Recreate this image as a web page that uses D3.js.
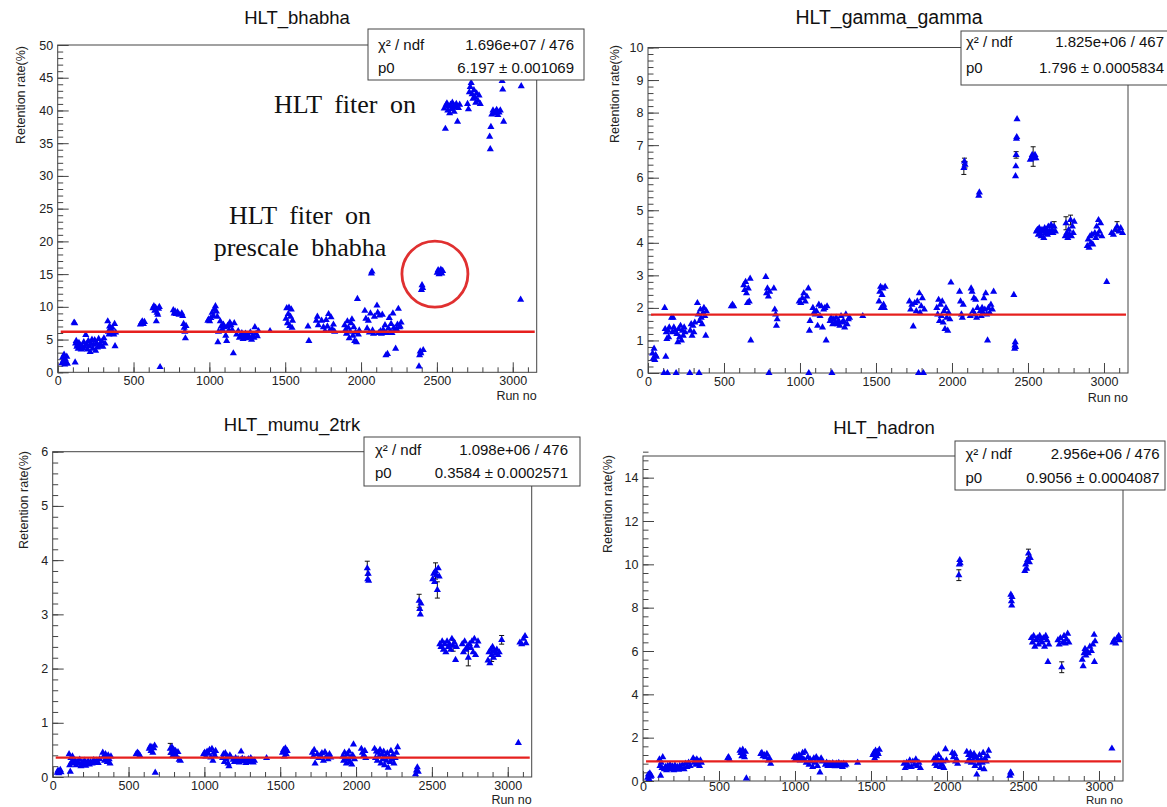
<!DOCTYPE html>
<html><head><meta charset="utf-8">
<script src="https://cdn.jsdelivr.net/npm/d3@7"></script>
<style>body{margin:0;background:#fff}svg{display:block}</style>
</head><body>
<svg id="chart" width="1167" height="807"></svg>
<script>
// ---------- DATA ----------
const titles = ["HLT_bhabha", "HLT_gamma_gamma", "HLT_mumu_2trk", "HLT_hadron"];
const chi2ndfText = ["1.696e+07 / 476", "1.825e+06 / 467", "1.098e+06 / 476", "2.956e+06 / 476"];
const p0Text = ["6.197 \u00b1 0.001069", "1.796 \u00b1 0.0005834", "0.3584 \u00b1 0.0002571", "0.9056 \u00b1 0.0004087"];
const p0Values = [6.197, 1.796, 0.3584, 0.9056];
const fitRange = [20, 3145];
const yMaxValues = [50, 10, 6, 15];
const yMajorStep = [5, 1, 1, 2];
const yMinorStep = [1, 0.2, 0.2, 0.4];
const xTickValues = [0, 500, 1000, 1500, 2000, 2500, 3000];
const xAxisTitle = "Run no";
const yAxisTitle = "Retention rate(%)";
const annotationLines = ["HLT fiter on", "HLT fiter on", "prescale bhabha"];
const circledPoint = [2487, 15.0];

// [run, rate, (error)]
const bhabha = [
[28,1.4],[33,2.3],[38,1.8],[42,2.7],[46,1.2],[50,2.0],[55,1.6],[60,2.4],[64,1.3],
[108,7.6],[112,7.5],[115,1.5],[118,4.4],[122,4.8],[126,3.9],[130,4.2],[135,3.6],[140,4.5],[145,3.8],[150,4.1],[155,3.5],[160,4.0],[165,3.7],
[172,4.6],[178,3.9],[185,5.7],[190,4.3],[196,3.5],[202,4.8],[208,4.0],[214,3.1],[220,4.4],[226,5.0],[232,3.6],[238,4.2],[244,4.9],[250,3.3],[256,4.5],[262,3.8],[270,5.1],[278,4.3],[285,4.0],[292,4.7],[298,3.9],[305,5.2],[312,4.4],
[330,7.8],[334,6.2],[338,5.8],[342,7.0],[346,6.5],[350,5.9],[355,6.3],[360,6.8],[365,6.0],[370,5.8],[375,7.4],[378,4.0],[382,6.1],
[545,7.3],[552,7.6],[558,7.8],[565,7.4],[572,7.7],
[628,9.8],[634,10.1],[640,9.4],[645,9.9],[650,7.8],[655,9.1],[660,8.8],[665,9.7],[670,10.0],[675,0.8],
[762,9.5],[768,9.0],[774,9.3],[780,8.9],[790,9.2],[800,8.8],[818,9.0],[824,8.6],[830,7.4],[834,6.8],[838,6.2],[842,5.2],[846,7.1],
[990,7.9],[996,8.1],[1002,7.8],[1010,8.3],[1018,9.1],[1026,8.6],[1032,9.6],[1040,10.1],[1046,9.3],[1052,8.5],[1056,4.6],[1060,6.2],
[1072,7.8],[1078,7.0],[1085,6.6],[1092,7.3],[1100,6.9],[1108,5.6],[1114,4.8],[1120,7.1],[1128,6.4],[1135,7.6],[1142,7.2],[1150,6.5],[1158,2.9],[1164,7.5],
[1180,5.8],[1190,6.3],[1198,5.3],[1206,5.6],[1214,6.0],[1222,5.1],[1230,5.5],[1238,5.9],[1246,5.2],[1254,5.7],[1262,5.4],[1270,6.1],[1278,5.0],[1286,5.6],[1294,5.3],[1300,6.9],[1308,5.9],[1316,5.5],[1324,6.3],
[1400,6.3],
[1505,8.2],[1510,9.8],[1515,7.5],[1520,8.9],[1525,9.9],[1530,7.1],[1535,8.5],[1540,9.6],[1545,6.8],[1548,7.9],
[1650,7.0],[1656,4.8],[1705,7.9],[1712,8.5],[1718,7.2],[1740,7.9],[1752,6.9],[1762,6.3],[1770,8.0],[1778,7.0],[1786,8.9],[1794,6.4],[1802,8.4],[1810,6.6],[1818,7.3],[1826,6.2],
[1892,7.2],[1898,6.5],[1904,5.9],[1910,7.8],[1916,6.8],[1922,5.2],[1928,6.2],[1934,7.5],[1940,8.1],[1946,5.6],[1952,6.9],[1958,4.8],[1964,6.1],[1970,4.6],[1976,11.2],[1982,5.8],[1988,6.4],
[2025,9.4],[2032,8.2],[2040,6.7],[2048,7.9],[2055,6.1],[2062,9.0],[2068,15.1],[2072,15.4],[2076,6.4],[2082,5.9],[2088,8.5],
[2105,10.2],[2110,9.1],[2116,6.0],[2122,8.7],[2128,6.3],[2134,5.9],[2140,8.8],[2146,6.5],[2152,6.1],[2158,7.2],[2164,2.6],[2168,6.0],[2174,2.8],[2180,6.7],[2186,8.3],[2192,6.2],[2198,7.4],[2204,6.0],[2210,9.0],[2216,6.8],[2222,6.4],[2228,3.6],[2234,6.6],[2240,7.3],[2246,9.7],[2252,6.9],[2258,7.0],[2264,7.6],
[2382,0.9],[2386,2.6],[2390,3.2],[2394,2.9],[2398,12.6],[2402,13.3],[2406,12.9],[2410,3.4],
[2502,15.2],[2508,15.6],[2514,15.0],[2520,15.4],[2526,15.7],[2532,15.1],[2538,15.5],
[2548,40.3],[2556,37.2],[2560,40.8],[2566,41.1],[2572,40.0],[2578,40.6],[2584,39.6],[2590,40.9],[2596,40.2],[2602,41.2],[2608,40.5],[2614,39.8],[2620,40.7],[2628,41.0],[2636,38.3],[2642,40.4],[2650,40.9],
[2702,41.0],[2708,40.2],[2714,42.8],[2720,43.6],[2726,44.2],[2732,42.5],[2738,41.8],[2744,43.1],[2750,42.0],[2756,41.2],[2762,42.6],[2770,41.5],[2778,42.3],[2786,41.0],
[2848,36.0],[2852,34.1],[2856,37.5],[2862,39.4],[2870,40.0],[2878,39.6],[2886,39.8],[2894,40.1],[2902,39.3],[2910,39.7],[2918,40.0],[2930,44.5],[2934,43.2],[2940,38.3],
[3052,11.1],[3056,43.7],[3090,45.0]
];

const gammaGamma = [
[30,0.6],[35,0.45],[40,0.75],[45,0.4],[50,0.55],[55,0.5],
[105,0],[110,2.0],[113,1.35],[117,0.5],[120,1.25],[124,1.05],[128,0],[132,1.3],[136,1.1],[140,1.4],
[155,1.7],[160,1.25],[165,1.7],[170,1.4],[178,1.3],[185,0],[190,1.2],[196,0.95],[202,1.35],[208,1.1],[214,1.45],[220,1.0],[226,1.3],[232,1.15],[238,1.4],[244,1.25],
[275,0],[278,1.3],[284,1.5],[290,1.15],[296,1.45],[302,1.25],[308,1.55],
[325,2.15],[330,1.8],[336,0],[340,1.6],[345,1.95],[350,1.7],[356,1.5],[362,1.85],[368,2.0],[374,1.75],[380,1.15],[384,1.9],
[548,2.05],[556,2.1],[564,2.05],
[630,2.7],[636,2.55],[642,2.8],[648,2.45],[654,2.15],[660,2.6],[666,2.2],[672,2.9],[676,1.0],
[775,2.95],[780,2.45],[786,2.6],[792,2.35],[796,0],[800,2.5],[828,2.6],[834,1.95],[840,1.8],[845,1.45],[850,1.65],
[995,2.2],[1005,2.15],[1015,2.3],[1025,2.45],[1035,2.2],[1045,2.35],[1055,2.6],[1058,0],[1062,1.3],[1066,1.6],
[1085,2.0],[1092,1.85],[1100,1.8],[1108,1.9],[1116,1.45],[1124,2.1],[1132,1.75],[1140,2.05],[1148,1.4],[1156,1.95],[1164,2.0],[1172,1.0],[1178,2.05],
[1198,1.6],[1205,1.7],[1210,0],[1215,1.5],[1222,1.65],[1230,1.55],[1238,1.7],[1246,1.5],[1254,1.6],[1262,1.45],[1270,1.75],[1278,1.55],[1286,1.6],[1294,1.4],[1302,1.8],[1310,1.5],[1318,1.65],[1326,1.7],
[1413,1.75],
[1520,2.2],[1525,2.5],[1530,2.65],[1535,2.0],[1540,2.4],[1545,2.6],[1550,2.1],[1555,2.0],[1560,2.65],
[1720,2.2],[1728,1.95],[1736,2.1],[1745,1.43],[1755,2.15],[1765,1.9],[1772,2.2],[1780,0],[1785,2.45],[1790,1.85],[1798,2.05],[1805,2.3],[1812,0],[1818,1.95],
[1900,2.0],[1906,1.8],[1912,2.25],[1918,1.6],[1924,2.1],[1930,1.75],[1936,2.2],[1942,1.55],[1948,1.9],[1954,1.35],[1960,2.0],[1966,1.7],[1972,1.3],[1978,1.85],[1986,1.65],[1993,2.78],
[2050,2.5],[2056,2.2],[2062,1.8],[2068,1.7],[2074,2.1],[2078,6.3,0.2],[2082,6.5,0.1],[2086,6.4,0.1],
[2120,1.75],[2126,2.6],[2132,2.5],[2138,1.9],[2144,2.3],[2150,1.8],[2156,2.25],[2162,1.7],[2168,2.0],[2176,5.45],[2180,5.55],[2186,1.9],[2192,1.75],[2198,2.0],[2204,1.85],[2210,2.3],[2216,1.95],[2222,2.45],[2228,1.8],[2234,1.0],[2240,2.0],[2248,1.85],[2256,2.1],[2266,1.95],[2274,2.5],
[2407,2.4],[2412,0.75],[2414,0.85],[2416,0.95],[2418,0.8],[2418,6.05],[2420,6.35],[2422,6.7,0.1],[2424,7.2],[2426,7.25],[2428,7.8],
[2515,6.55],[2522,6.6],[2528,6.7],[2534,6.65,0.3],[2540,6.6],[2546,6.7],[2552,6.6],
[2555,4.35],[2562,4.4],[2568,4.25],[2574,4.45],[2580,4.3],[2586,4.2],[2592,4.4],[2598,4.35],[2604,4.15],[2610,4.45],[2616,4.3],[2622,4.4],[2628,4.25],[2634,4.5],[2640,4.35],[2646,4.3],[2652,4.55],[2658,4.4],[2664,4.3],[2672,4.5,0.15],[2680,4.35],
[2745,4.2],[2750,4.6,0.2],[2756,4.3],[2762,4.15],[2768,4.4],[2774,4.25],[2780,4.7,0.15],[2786,4.2],[2792,4.5],[2798,4.3],[2804,4.65],
[2890,3.9],[2896,4.1],[2902,3.85],[2908,4.2],[2914,4.0],[2920,4.25],[2926,3.95],[2940,4.3],[2946,4.15],[2952,4.5],[2958,4.25],[2964,4.7],[2970,4.35],[2978,4.6],[2986,4.2],
[3018,2.8],[3050,4.3],[3062,4.25],[3074,4.4],[3086,4.5,0.15],[3098,4.35],[3110,4.45],[3122,4.3]
];

const mumu2trk = [
[30,0.08],[35,0.12],[40,0.07],[45,0.1],[50,0.13],[55,0.09],
[108,0.42],[112,0.22],[116,0.1],[120,0.35],[125,0.28],[130,0.38],
[140,0.25],[148,0.3],[155,0.22],[162,0.28],[170,0.25],[178,0.32],[186,0.2],[194,0.27],[202,0.24],[210,0.3],[218,0.21],[226,0.26],[234,0.29],[242,0.23],[250,0.28],[260,0.25],[270,0.31],[280,0.27],[290,0.3],[300,0.26],[310,0.33],
[330,0.45],[336,0.38],[342,0.3],[348,0.42],[354,0.35],[360,0.28],[366,0.4],[372,0.33],[378,0.25],[384,0.38],
[550,0.42],[558,0.45],[566,0.43],[574,0.4],
[636,0.52],[642,0.56],[648,0.48],[654,0.55],[660,0.45],[666,0.53],[672,0.58],[676,0.08],
[775,0.52,0.1],[780,0.45],[786,0.55],[792,0.4],[798,0.5],[804,0.44],[810,0.48],[818,0.38],[826,0.46],[834,0.32],[842,0.3],
[995,0.42],[1002,0.45],[1010,0.38],[1018,0.47],[1026,0.43],[1034,0.5],[1042,0.36],[1050,0.52],[1056,0.3],[1062,0.45],[1068,0.4],[1074,0.48],
[1120,0.35],[1126,0.42],[1132,0.28],[1138,0.44],[1144,0.33],[1150,0.38],[1156,0.25],[1162,0.2],[1168,0.4],[1174,0.36],
[1190,0.32],[1198,0.28],[1206,0.35],[1214,0.3],[1222,0.33],[1230,0.27],[1238,0.31],[1242,0.47],[1250,0.34],[1258,0.29],[1266,0.32],[1274,0.26],[1282,0.3],[1290,0.33],[1298,0.28],[1306,0.35],[1314,0.31],[1322,0.27],[1330,0.3],
[1410,0.35],
[1515,0.45],[1522,0.5],[1528,0.38],[1534,0.53],[1540,0.42],[1546,0.48],
[1712,0.45],[1718,0.38],[1724,0.5],[1730,0.25],[1745,0.42],[1755,0.35],[1765,0.4],[1775,0.44],[1785,0.3],[1795,0.46],[1805,0.38],[1815,0.33],[1825,0.42],[1833,0.36],
[1912,0.38],[1918,0.3],[1924,0.45],[1930,0.35],[1936,0.25],[1942,0.42],[1948,0.32],[1954,0.47],[1960,0.28],[1966,0.36],[1972,0.23],[1978,0.4],[1983,0.6],[1990,0.33],
[2035,0.52],[2042,0.45],[2050,0.4],[2058,0.48],[2064,0.35],[2074,3.85,0.13],[2077,3.65],[2080,3.75],[2083,3.62],
[2122,0.52],[2128,0.35],[2134,0.47],[2140,0.3],[2146,0.45],[2152,0.38],[2158,0.5],[2164,0.25],[2170,0.42],[2176,0.33],[2182,0.47],[2188,0.22],[2194,0.38],[2200,0.3],[2206,0.44],[2212,0.17],[2218,0.36],[2224,0.28],[2230,0.48],[2236,0.32],[2242,0.4],[2250,0.25],[2258,0.35],[2266,0.45],[2274,0.55],
[2392,0.05],[2398,0.12],[2404,0.18],[2410,0.1],[2416,3.25,0.12],[2420,3.1],[2424,3.0],[2428,3.2],
[2505,3.65],[2512,3.75],[2518,3.6],[2524,3.8,0.15],[2530,3.72],[2536,3.45,0.15],[2542,3.85],[2548,3.7],
[2552,2.45],[2560,2.4],[2568,2.5],[2576,2.35],[2584,2.45],[2592,2.3],[2600,2.5],[2608,2.4],[2616,2.45],[2624,2.35],[2632,2.55],[2640,2.42,0.1],[2648,2.48],[2656,2.16],[2662,2.4],
[2700,2.45],[2708,2.3],[2716,2.5],[2724,2.35],[2732,2.4],[2740,2.2,0.15],[2748,2.45],[2756,2.38],[2764,2.5],[2772,2.3],[2780,2.55],[2788,2.25],[2796,2.42],[2804,2.5],
[2870,2.15],[2876,2.3],[2882,2.1],[2888,2.35],[2894,2.25,0.12],[2900,2.4],[2906,2.2],[2912,2.32],[2920,2.28],[2928,2.35],[2936,2.25],[2944,2.3],[2960,2.53,0.08],
[3070,0.63],[3080,2.48],[3092,2.45],[3104,2.55],[3114,2.6],[3120,2.47]
];

const hadron = [
[30,0.15],[35,0.3],[40,0.1],[45,0.35],[50,0.2],[55,0.25],
[108,1.0],[112,0.7],[116,0.25],[120,0.85],[125,0.6],[130,1.1],
[140,0.55],[148,0.65],[155,0.5],[162,0.7],[170,0.6],[178,0.75],[186,0.55],[194,0.68],[202,0.5],[210,0.72],[218,0.58],[226,0.65],[234,0.52],[242,0.7],[250,0.6],[260,0.75],[270,0.55],[280,0.8],[290,0.65],[300,0.85],[310,0.7],
[330,1.05],[336,0.85],[342,0.95],[348,0.75],[354,1.0],[360,0.8],[366,0.9],[372,0.7],[378,0.95],[384,0.85],
[557,1.05],[563,1.1],[569,1.0],
[638,1.4],[644,1.3],[650,1.15],[656,1.45],[662,1.25],[668,1.1],[674,1.35],[680,0.12],
[775,1.25],[782,1.3],[790,1.15],[798,1.2],[806,1.1],[815,1.25],[825,0.95],[832,1.05],[840,0.8],
[995,1.1],[1002,1.0],[1010,1.15],[1018,1.05],[1026,1.2],[1034,0.95],[1042,1.1],[1050,1.3],[1058,1.0],[1066,1.35],[1074,0.85],
[1085,1.1],[1092,0.75],[1100,1.0],[1108,0.9],[1116,0.65],[1124,1.05],[1132,0.85],[1140,1.1],[1148,0.7],[1156,0.95],[1164,0.4],[1172,1.05],[1180,0.9],
[1200,0.75],[1208,0.85],[1216,0.7],[1224,0.8],[1232,0.78],[1240,0.7],[1248,0.82],[1256,0.75],[1264,0.68],[1272,0.8],[1280,0.72],[1288,0.84],[1296,0.7],[1304,0.78],[1312,0.65],[1320,0.8],[1328,0.72],[1336,0.76],
[1412,0.85],
[1512,1.2],[1518,1.3],[1524,1.05],[1530,1.4],[1536,1.15],[1542,1.35],[1548,1.25],[1555,1.45],
[1717,0.8],[1725,0.6],[1735,0.85],[1745,0.7],[1755,0.95],[1765,0.65],[1775,0.9],[1785,0.75],[1795,1.0],[1805,0.7],[1815,0.85],[1825,0.6],
[1913,1.0],[1920,0.8],[1926,1.1],[1932,0.7],[1938,0.95],[1944,1.2],[1950,0.85],[1956,0.65],[1962,1.0],[1968,0.75],[1974,0.9],[1980,0.6],[1990,1.47],[1996,0.95],
[2035,1.3],[2042,1.1],[2050,1.25],[2056,0.9],[2064,1.0],[2070,0.8],[2078,9.5,0.25],[2081,10.0],[2084,10.2],[2087,10.05],
[2130,1.35],[2136,0.9],[2142,1.2],[2148,1.0],[2154,1.3],[2160,0.85],[2166,1.15],[2172,0.95],[2178,1.25],[2184,0.7],[2190,1.1],[2196,0.3],[2202,1.0],[2208,0.8],[2214,1.2],[2220,0.6],[2226,1.0],[2232,0.85],[2238,1.3],[2244,0.55],[2250,1.05],[2258,0.9],[2266,1.15],[2274,1.4],
[2414,0.25],[2418,0.4],[2422,0.35],[2420,8.6],[2424,8.3],[2428,8.5],[2426,8.1],
[2512,9.7],[2518,10.0],[2524,9.8],[2530,10.2],[2536,10.5,0.2],[2542,10.1],[2548,10.3],
[2555,6.6],[2562,6.4],[2570,6.7],[2578,6.2],[2586,6.5],[2594,6.6],[2602,6.3],[2610,6.7],[2618,6.5],[2626,6.4],[2634,6.6],[2642,6.2],[2650,6.7],[2658,6.5],[2664,5.5],[2670,6.3],
[2730,6.5],[2738,6.3],[2746,6.6],[2755,5.25,0.25],[2762,6.4],[2770,6.7],[2778,6.35],[2786,6.55],[2794,6.8],[2802,6.4],
[2890,5.6],[2896,5.3],[2902,5.9],[2908,6.1],[2914,5.8],[2920,6.0],[2930,5.9],[2940,6.2],[2950,6.0],[2960,6.3],[2968,6.75],[2970,5.5],[2974,6.45],
[3085,1.5],[3092,6.4],[3100,6.5],[3110,6.35],[3120,6.6],[3130,6.7],[3135,6.5]
];

const seriesList = [bhabha, gammaGamma, mumu2trk, hadron];

// ---------- LAYOUT (positions / styles only) ----------
const layout = [
 {l:57.7, r:536.7, t:45, b:372.3, xMax:3158, pad:4,
  title:{x:297, y:24, fs:18.5}, ytitle:{x:25, y:46}, runno:{x:536.7, y:400, fs:12.5},
  box:{x:368, y:29, w:216, h:51, lx:378, rx:574, r1:50, r2:73}},
 {l:648, r:1128, t:47.5, b:373, xMax:3158, pad:4,
  title:{x:889, y:24, fs:19.5}, ytitle:{x:618.5, y:45}, runno:{x:1128, y:402, fs:12.5},
  box:{x:961, y:31, w:215, h:54, lx:966, rx:1164, r1:47, r2:73}},
 {l:52.7, r:531.7, t:451.7, b:777, xMax:3158, pad:4,
  title:{x:292, y:431, fs:18.5}, ytitle:{x:28, y:451}, runno:{x:531.7, y:804, fs:12.5},
  box:{x:364, y:437, w:216, h:49, lx:375, rx:568, r1:455, r2:478}},
 {l:643, r:1123, t:456, b:781, xMax:3158, pad:1,
  title:{x:884, y:434, fs:18.5}, ytitle:{x:611.5, y:455}, runno:{x:1123, y:803.5, fs:11.5},
  box:{x:955, y:441, w:210, h:49, lx:965.5, rx:1159.6, r1:459, r2:483}}
];

const FONT = "'Liberation Sans', Arial, Helvetica, sans-serif";
const SERIF = "'Liberation Serif', 'Times New Roman', serif";
const FRAME = "#444";
const BLUE = "#0000f0";
const RED = "#e6201e";

const svg = d3.select("#chart");
svg.append("rect").attr("width",1167).attr("height",807).attr("fill","#fff");

seriesList.forEach((data, i) => {
  const L = layout[i];
  const x = d3.scaleLinear().domain([0, L.xMax]).range([L.l, L.r]);
  const y = d3.scaleLinear().domain([0, yMaxValues[i]]).range([L.b, L.t]);
  const g = svg.append("g");

  // frame
  g.append("rect").attr("x", L.l).attr("y", L.t).attr("width", L.r - L.l).attr("height", L.b - L.t)
    .attr("fill", "none").attr("stroke", FRAME).attr("stroke-width", 1);

  const clean = s => { s.select(".domain").remove(); s.selectAll("line").attr("stroke", FRAME); };

  // x axis minor + major ticks (inward)
  g.append("g").attr("transform", `translate(0,${L.b})`)
    .call(d3.axisBottom(x).tickValues(d3.range(0, L.xMax, 100)).tickSize(-5).tickFormat(""))
    .call(clean);
  const xa = g.append("g").attr("transform", `translate(0,${L.b})`)
    .call(d3.axisBottom(x).tickValues(xTickValues).tickSize(-10).tickPadding(L.pad).tickFormat(d3.format("d")))
    .call(clean);
  xa.selectAll("text").attr("font-family", FONT).attr("font-size", 12.5).attr("fill", "#222");

  // y axis minor + major ticks (inward)
  const nMinor = Math.round(yMaxValues[i] / yMinorStep[i]);
  const nMajor = Math.round(yMaxValues[i] / yMajorStep[i]);
  const yMajorTicks = d3.range(0, nMajor + 1).map(k => +(k * yMajorStep[i]).toFixed(3)).filter(v => v <= yMaxValues[i]);
  g.append("g").attr("transform", `translate(${L.l},0)`)
    .call(d3.axisLeft(y).tickValues(d3.range(0, nMinor + 1).map(k => k * yMinorStep[i])).tickSize(-5.5).tickFormat(""))
    .call(clean);
  const ya = g.append("g").attr("transform", `translate(${L.l},0)`)
    .call(d3.axisLeft(y).tickValues(yMajorTicks).tickSize(-11).tickPadding(4.5).tickFormat(d3.format("d")))
    .call(clean);
  ya.selectAll("text").attr("font-family", FONT).attr("font-size", 12.5).attr("fill", "#222");

  // axis titles
  g.append("text").attr("transform", `translate(${L.ytitle.x},${L.ytitle.y}) rotate(-90)`)
    .attr("text-anchor", "end").attr("font-family", FONT).attr("font-size", 12.5).attr("fill", "#222")
    .text(yAxisTitle);
  g.append("text").attr("x", L.runno.x).attr("y", L.runno.y).attr("text-anchor", "end")
    .attr("font-family", FONT).attr("font-size", L.runno.fs).attr("fill", "#222").text(xAxisTitle);

  // error bars
  const errs = data.filter(d => d.length > 2);
  g.selectAll("line.err").data(errs).join("line").attr("class", "err")
    .attr("x1", d => x(d[0])).attr("x2", d => x(d[0]))
    .attr("y1", d => y(d[1] - d[2])).attr("y2", d => y(d[1] + d[2]))
    .attr("stroke", "#111").attr("stroke-width", 1);
  g.selectAll("line.capT").data(errs).join("line").attr("class", "capT")
    .attr("x1", d => x(d[0]) - 2.5).attr("x2", d => x(d[0]) + 2.5)
    .attr("y1", d => y(d[1] + d[2])).attr("y2", d => y(d[1] + d[2]))
    .attr("stroke", "#111").attr("stroke-width", 1);
  g.selectAll("line.capB").data(errs).join("line").attr("class", "capB")
    .attr("x1", d => x(d[0]) - 2.5).attr("x2", d => x(d[0]) + 2.5)
    .attr("y1", d => y(d[1] - d[2])).attr("y2", d => y(d[1] - d[2]))
    .attr("stroke", "#111").attr("stroke-width", 1);

  // markers
  const tri = d3.symbol(d3.symbolTriangle, 22)();
  g.selectAll("path.pt").data(data).join("path").attr("class", "pt")
    .attr("transform", d => `translate(${x(d[0])},${y(d[1])})`)
    .attr("d", tri).attr("fill", BLUE);

  // fit line
  g.append("line").attr("x1", x(fitRange[0])).attr("x2", x(fitRange[1]))
    .attr("y1", y(p0Values[i])).attr("y2", y(p0Values[i]))
    .attr("stroke", RED).attr("stroke-width", 2.3);

  // stats box
  const B = L.box;
  g.append("rect").attr("x", B.x).attr("y", B.y).attr("width", B.w).attr("height", B.h)
    .attr("fill", "#fff").attr("stroke", FRAME).attr("stroke-width", 1);
  const st = (xx, yy, anchor, txt) => g.append("text").attr("x", xx).attr("y", yy).attr("text-anchor", anchor)
    .attr("font-family", FONT).attr("font-size", 15).attr("fill", "#111").text(txt);
  st(B.lx, B.r1, "start", "\u03c7\u00b2 / ndf");
  st(B.rx, B.r1, "end", chi2ndfText[i]);
  st(B.lx, B.r2, "start", "p0");
  st(B.rx, B.r2, "end", p0Text[i]);

  // title
  g.append("text").attr("x", L.title.x).attr("y", L.title.y).attr("text-anchor", "middle")
    .attr("font-family", FONT).attr("font-size", L.title.fs).attr("fill", "#111").text(titles[i]);

  // annotations (first panel)
  if (i === 0) {
    const ann = (cx, by, txt) => g.append("text").attr("x", cx).attr("y", by).attr("text-anchor", "middle")
      .attr("font-family", SERIF).attr("font-size", 26).attr("fill", "#111")
      .style("word-spacing", "6px").text(txt);
    ann(345, 113, annotationLines[0]);
    ann(300, 224, annotationLines[1]);
    ann(300, 256, annotationLines[2]);
    g.append("circle").attr("cx", x(circledPoint[0])).attr("cy", y(circledPoint[1])).attr("r", 33)
      .attr("fill", "none").attr("stroke", "#e03030").attr("stroke-width", 2.8);
  }
});
</script>
</body></html>
